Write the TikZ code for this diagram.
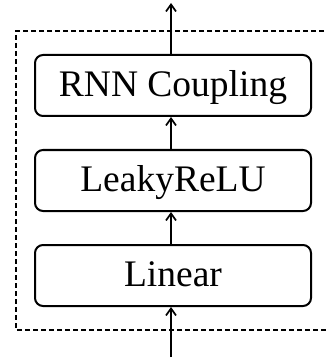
\documentclass[tikz,border=0pt]{standalone}
\usepackage{fontspec}
\setmainfont{Liberation Serif}
\usetikzlibrary{arrows.meta}
\begin{document}
\begin{tikzpicture}[x=1pt,y=-1pt,
  blk/.style={draw,line width=2pt,rounded corners=8pt,minimum width=276pt,minimum height=61pt,
    inner sep=0pt,text height=30pt,text depth=8pt,font=\fontsize{37.5}{40}\selectfont},
  arr/.style={line width=1.7pt,-{Straight Barb[length=7pt,width=10pt,line width=1.7pt]}},
  frame/.style={draw,line width=1.5pt,dash pattern=on 5pt off 3pt}]
\useasboundingbox (0,0) rectangle (326,358);
\draw[frame] (340,31) -- (16,31) -- (16,330) -- (340,330);
\node[blk] (rnn) at (173,85.5) {RNN Coupling};
\node[blk] (leaky) at (173,180.5) {LeakyReLU};
\node[blk] (lin) at (173,275.5) {Linear};
\coordinate (out) at (171,3);
\coordinate (in) at (171,357);
\draw[arr] ([xshift=-2pt]rnn.north) -- (out);
\draw[arr] ([xshift=-2pt]leaky.north) -- ([xshift=-2pt]rnn.south);
\draw[arr] ([xshift=-2pt]lin.north) -- ([xshift=-2pt]leaky.south);
\draw[arr] (in) -- ([xshift=-2pt]lin.south);
\end{tikzpicture}
\end{document}
